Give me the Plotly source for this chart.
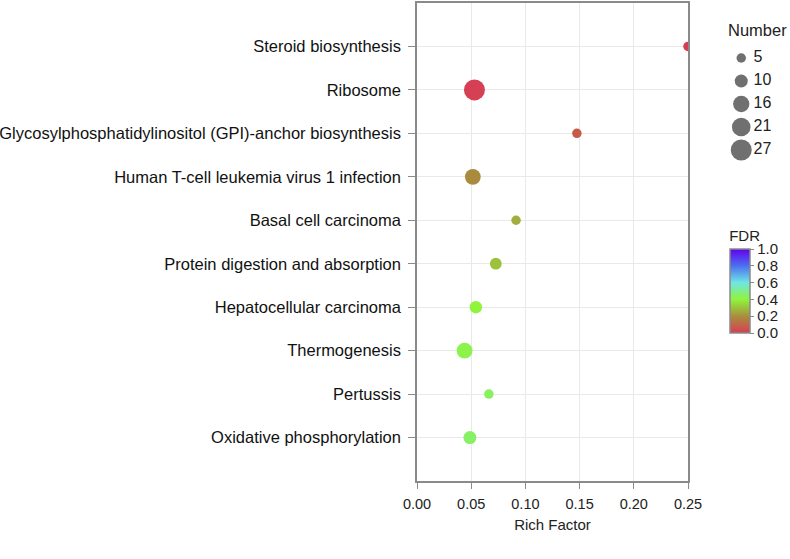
import numpy as np
import plotly.graph_objects as go

# KEGG pathways, listed top to bottom as in the figure
pathways = [
    "Steroid biosynthesis",
    "Ribosome",
    "Glycosylphosphatidylinositol (GPI)-anchor biosynthesis",
    "Human T-cell leukemia virus 1 infection",
    "Basal cell carcinoma",
    "Protein digestion and absorption",
    "Hepatocellular carcinoma",
    "Thermogenesis",
    "Pertussis",
    "Oxidative phosphorylation",
]
rich_factor = [0.250, 0.053, 0.1475, 0.0515, 0.0914, 0.0727, 0.0543, 0.0439, 0.0663, 0.0488]
gene_number = [5, 27, 5, 15, 5, 8, 9, 15, 5, 10]
fdr = [0.0, 0.01, 0.07, 0.19, 0.26, 0.30, 0.40, 0.42, 0.44, 0.45]

size_breaks = [5, 10, 16, 21, 27]
fdr_ticks = [0.0, 0.2, 0.4, 0.6, 0.8, 1.0]

fdr_scale = [
    [0.0, "#d83c55"],
    [0.2, "#a88f3c"],
    [0.4, "#8ff43c"],
    [0.6, "#6fe6e4"],
    [0.8, "#4c6ff0"],
    [1.0, "#6200ee"],
]


def diam(n):
    # bubble diameter from gene count (area roughly proportional)
    return np.sqrt(10 + 16 * np.asarray(n, dtype=float))


font = "Liberation Sans, Arial, Helvetica, sans-serif"
grey = "#8a8a8a"

fig = go.Figure()

fig.add_trace(go.Scatter(
    x=rich_factor,
    y=pathways,
    mode="markers",
    marker=dict(
        size=diam(gene_number),
        sizemode="diameter",
        opacity=1,
        color=fdr,
        colorscale=fdr_scale,
        cmin=0, cmax=1,
        line=dict(width=0),
        colorbar=dict(
            title=dict(text="FDR", side="top", font=dict(size=15, color="#222")),
            x=0.839, xanchor="left",
            y=(481 - 333) / 478, yanchor="bottom",
            lenmode="pixels", len=106,
            thickness=20, ypad=0, xpad=0,
            outlinecolor=grey, outlinewidth=1.5,
            tickvals=fdr_ticks, tickformat=".1f",
            ticks="outside", ticklen=4, tickcolor=grey,
            tickfont=dict(size=15, color="#222"),
        ),
    ),
    showlegend=False,
    hovertemplate="%{y}<br>Rich Factor: %{x}<extra></extra>",
))

# size legend drawn on a small side axis
idx = list(range(len(size_breaks)))
fig.add_trace(go.Scatter(
    x=[0.25] * len(size_breaks), y=idx,
    xaxis="x2", yaxis="y2",
    mode="markers",
    marker=dict(size=diam(size_breaks), sizemode="diameter", opacity=1,
                color="#707070", line=dict(width=0)),
    showlegend=False, hoverinfo="skip",
))
fig.add_trace(go.Scatter(
    x=[0.44] * len(size_breaks), y=idx,
    xaxis="x2", yaxis="y2",
    mode="text",
    text=[str(s) for s in size_breaks],
    textposition="middle right",
    textfont=dict(size=16, color="#222", family=font),
    showlegend=False, hoverinfo="skip",
))

fig.update_layout(
    width=790, height=559,
    autosize=False,
    margin=dict(l=417, r=0, t=3, b=78, autoexpand=False),
    paper_bgcolor="white",
    plot_bgcolor="white",
    font=dict(family=font, color="#222"),
    xaxis=dict(
        domain=[0, 271 / 373],
        range=[0, 0.25],
        dtick=0.05, tickformat=".2f",
        showgrid=True, gridcolor="#e9e9e9", gridwidth=1,
        zeroline=False,
        showline=True, mirror=True, linecolor=grey, linewidth=1.5,
        ticks="outside", ticklen=6, tickcolor=grey, tickwidth=1,
        ticklabelstandoff=3,
        tickfont=dict(size=14.5, color="#222"),
        title=dict(text="Rich Factor", font=dict(size=15, color="#222"), standoff=8),
    ),
    yaxis=dict(
        categoryorder="array",
        categoryarray=pathways[::-1],
        range=[-1, len(pathways)],
        showgrid=True, gridcolor="#e9e9e9", gridwidth=1,
        zeroline=False,
        showline=True, mirror=True, linecolor=grey, linewidth=1.5,
        ticks="outside", ticklen=7, tickcolor=grey,
        ticklabelstandoff=4,
        tickfont=dict(size=16.5, color="#111"),
    ),
    xaxis2=dict(
        domain=[(725 - 417) / 373, 1], range=[0, 1], anchor="y2",
        visible=False, fixedrange=True,
    ),
    yaxis2=dict(
        domain=[(481 - 161.5) / 478, (481 - 46.5) / 478],
        range=[len(size_breaks) - 0.5, -0.5], anchor="x2",
        visible=False, fixedrange=True,
    ),
    annotations=[dict(
        text="Number", xref="paper", yref="paper",
        x=(726 - 417) / 373, y=(481 - 30) / 478,
        xanchor="left", yanchor="middle", showarrow=False,
        font=dict(size=16.5, color="#222"),
    )],
)

# page is shown in a bare window: drop the default body margin and scrollbars
fig.write_html(
    "out.html",
    config={"displayModeBar": False, "responsive": False},
    post_script="document.body.style.margin='0';document.body.style.overflow='hidden';",
)
